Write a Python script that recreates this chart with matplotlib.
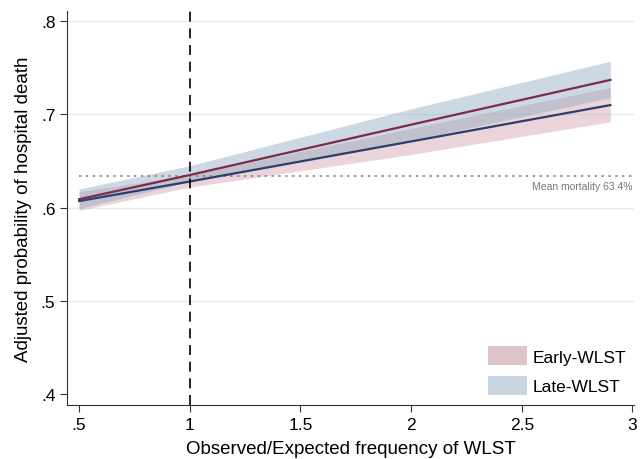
import numpy as np
import matplotlib
matplotlib.use('Agg')
import matplotlib.pyplot as plt
from matplotlib.patches import Patch

ratio = [0.5, 1.0, 2.0, 2.9]

early_mid = [0.607, 0.628, 0.671, 0.710]
early_lo = [0.597, 0.622, 0.657, 0.692]
early_hi = [0.617, 0.635, 0.685, 0.729]

late_mid = [0.609, 0.635, 0.689, 0.737]
late_lo = [0.599, 0.628, 0.672, 0.718]
late_hi = [0.620, 0.645, 0.706, 0.757]

mean_mort = 0.634
xticks = [0.5, 1, 1.5, 2, 2.5, 3]
xlabels = ['.5', '1', '1.5', '2', '2.5', '3']
yticks = [0.4, 0.5, 0.6, 0.7, 0.8]
ylabels = ['.4', '.5', '.6', '.7', '.8']

plt.rcParams['font.family'] = ['Liberation Sans', 'DejaVu Sans']

fig = plt.figure(figsize=(6.4, 4.6), dpi=100)
ax = fig.add_axes([0.105, 0.117, 0.885, 0.857])

pink = '#cf97a4'
blue = '#8ea9c1'

for yv in [0.5, 0.6, 0.7, 0.8]:
    ax.axhline(yv, color='#e6edf1', lw=1, zorder=0)

ax.fill_between(ratio, early_lo, early_hi, color=pink, alpha=0.4, lw=0, zorder=1)
ax.fill_between(ratio, late_lo, late_hi, color=blue, alpha=0.45, lw=0, zorder=1)
ax.plot(ratio, late_mid, color='#7e2a48', lw=1.6, zorder=3)
ax.plot(ratio, early_mid, color='#2c3d6e', lw=1.6, zorder=3)

ax.plot([0.5, 3.0], [mean_mort, mean_mort], color='#777777', lw=1.1,
        ls=(0, (1.5, 3)), zorder=2)
ax.text(3.0, mean_mort - 0.005, 'Mean mortality 63.4%', ha='right', va='top',
        fontsize=7.5, color='#777777')
ax.axvline(1, color='black', lw=1.2, ls=(0, (6, 4)), zorder=4)

ax.set_xlim(0.446, 3.005)
ax.set_ylim(0.388, 0.811)
ax.set_xticks(xticks)
ax.set_xticklabels(xlabels)
ax.set_yticks(yticks)
ax.set_yticklabels(ylabels)
ax.tick_params(labelsize=12.5, length=5, width=0.8, color='#333333')
for s in ['top', 'right']:
    ax.spines[s].set_visible(False)
for s in ['left', 'bottom']:
    ax.spines[s].set_linewidth(0.8)
    ax.spines[s].set_color('#333333')

ax.set_xlabel('Observed/Expected frequency of WLST', fontsize=13.5, labelpad=6)
ax.set_ylabel('Adjusted probability of hospital death', fontsize=13.5, labelpad=6)

handles = [Patch(facecolor='#dfc4ca', edgecolor='none', label='Early-WLST'),
           Patch(facecolor='#c9d5e0', edgecolor='none', label='Late-WLST')]
ax.legend(handles=handles, loc='lower right', frameon=False, fontsize=12.5,
          handlelength=2.25, handleheight=1.3, handletextpad=0.3,
          labelspacing=0.6, bbox_to_anchor=(1.014, -0.013))

fig.savefig('out.png', dpi=100)
